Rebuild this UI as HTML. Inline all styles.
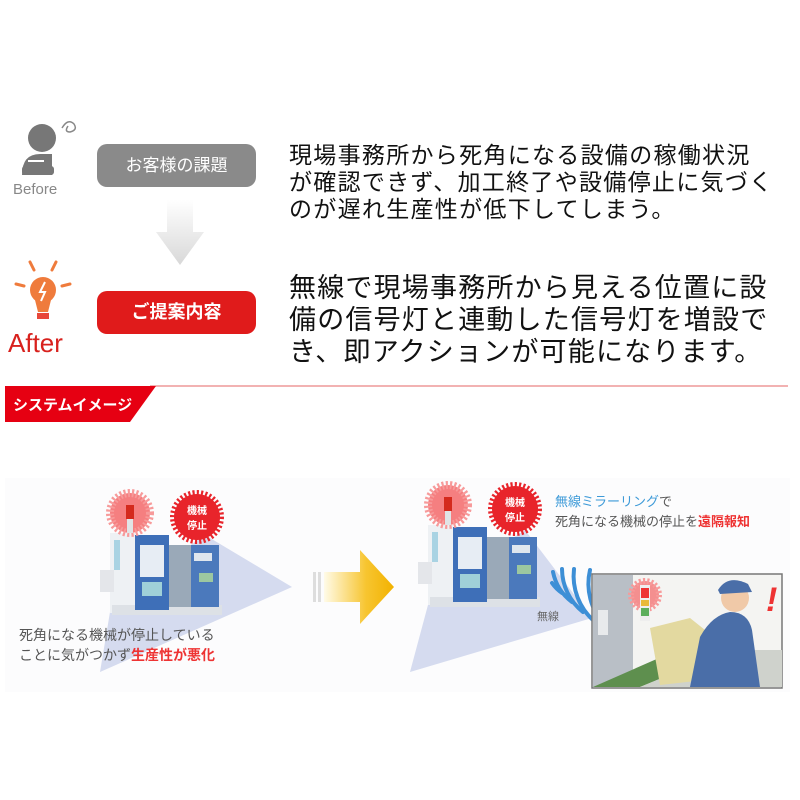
<!DOCTYPE html>
<html><head><meta charset="utf-8">
<style>
body{margin:0;width:800px;height:800px;background:#fff;position:relative;overflow:hidden;font-family:"Liberation Sans","Noto Sans CJK JP",sans-serif;}
.abs{position:absolute;}
.pill{position:absolute;border-radius:10px;color:#fff;text-align:center;font-weight:bold;}
.t1{font-size:23px;line-height:27px;color:#111;letter-spacing:1.3px;}
.t2{font-size:27px;line-height:32px;color:#111;letter-spacing:1.2px;}
</style></head><body>

<svg class="abs" style="left:0;top:0" width="800" height="800">
  <defs>
    <linearGradient id="dg" x1="0" y1="0" x2="0" y2="1"><stop offset="0" stop-color="#fff"/><stop offset="1" stop-color="#d8d8d8"/></linearGradient>
    <linearGradient id="yg" x1="0" y1="0" x2="1" y2="0"><stop offset="0" stop-color="#fffbe8"/><stop offset="0.6" stop-color="#f7c530"/><stop offset="1" stop-color="#f2b200"/></linearGradient>
    <g id="mach">
      <rect x="110" y="533" width="25" height="80" fill="#eef1f4"/>
      <rect x="114" y="540" width="6" height="30" fill="#a9d3e3"/>
      <rect x="100" y="570" width="14" height="22" fill="#e4e6ea"/>
      <rect x="112" y="605" width="110" height="10" fill="#dde1e6"/>
      <rect x="135" y="535" width="34" height="75" fill="#3e6fb8"/>
      <rect x="140" y="545" width="24" height="32" fill="#e7edf4"/>
      <rect x="142" y="582" width="20" height="14" fill="#9fd0d8"/>
      <rect x="169" y="545" width="22" height="62" fill="#9aa9b8"/>
      <rect x="191" y="545" width="28" height="62" fill="#4b79bc"/>
      <rect x="194" y="553" width="18" height="8" fill="#dfe6ee"/>
      <rect x="199" y="573" width="14" height="9" fill="#9cc7a0"/>
      <circle cx="130" cy="513" r="20" fill="#f57f80" stroke="#f79a9a" stroke-width="8" stroke-dasharray="2 2"/>
      <rect x="126" y="505" width="8" height="14" fill="#d42a1d"/>
      <rect x="127" y="519" width="6" height="14" fill="#e0e4e6"/>
      <circle cx="197" cy="517" r="23" fill="#e8242b" stroke="#e8242b" stroke-width="8" stroke-dasharray="2 2"/>
    </g>
  </defs>
  <!-- Before person -->
  <circle cx="42" cy="138" r="14" fill="#777"/>
  <path d="M22 175 Q22 154 40 154 L52 154 L52 175 Z" fill="#777"/>
  <rect x="22" y="166" width="32" height="9" rx="3" fill="#777"/>
  <rect x="28" y="160" width="16" height="2" fill="#fff"/>
  <path d="M62 128 q6 -10 12 -4 q4 6 -4 8 q-6 0 -2 -6" stroke="#888" stroke-width="1.5" fill="none"/>
  <path d="M167 200 L193 200 L193 232 L204 232 L180 265 L156 232 L167 232 Z" fill="url(#dg)"/>
  <!-- bulb -->
  <g stroke="#ef7b3c" stroke-width="3" stroke-linecap="round">
    <line x1="30" y1="262" x2="34" y2="270"/><line x1="56" y1="262" x2="52" y2="270"/>
    <line x1="16" y1="284" x2="24" y2="286"/><line x1="70" y1="284" x2="62" y2="286"/>
  </g>
  <circle cx="43" cy="290" r="13" fill="#ef7b3c"/>
  <path d="M34 296 L52 296 L48 312 L38 312 Z" fill="#ef7b3c"/>
  <rect x="37" y="313" width="12" height="6" fill="#e8473a"/>
  <path d="M45 282 L40 292 L45 292 L41 301" stroke="#fff" stroke-width="2" fill="none"/>

  <line x1="150" y1="386" x2="788" y2="386" stroke="#e99" stroke-width="1.5"/>
  <polygon points="5,386 156,386 130,422 5,422" fill="#e60012"/>

  <rect x="5" y="478" width="785" height="214" fill="#fcfcfd"/>

  <polygon points="205,535 292,587 100,672 112,600" fill="#d5dbef"/>
  <use href="#mach"/>
  <text x="197" y="514" font-size="10" font-weight="bold" fill="#fff" text-anchor="middle" font-family="Liberation Sans,Noto Sans CJK JP,sans-serif">機械</text>
  <text x="197" y="529" font-size="10" font-weight="bold" fill="#fff" text-anchor="middle" font-family="Liberation Sans,Noto Sans CJK JP,sans-serif">停止</text>

  <rect x="313" y="572" width="3" height="30" fill="#ddd"/><rect x="318" y="572" width="3" height="30" fill="#ddd"/>
  <polygon points="324,572 360,572 360,550 394,587 360,624 360,602 324,602" fill="url(#yg)"/>

  <polygon points="525,530 592,618 410,672 432,590" fill="#d5dbef"/>
  <use href="#mach" transform="translate(318,-8)"/>
  <text x="515" y="506" font-size="10" font-weight="bold" fill="#fff" text-anchor="middle" font-family="Liberation Sans,Noto Sans CJK JP,sans-serif">機械</text>
  <text x="515" y="521" font-size="10" font-weight="bold" fill="#fff" text-anchor="middle" font-family="Liberation Sans,Noto Sans CJK JP,sans-serif">停止</text>

  <g fill="none" stroke="#3d8fd6" stroke-width="4" stroke-linecap="round">
    <path d="M552 583 A40 40 0 0 0 562 593"/>
    <path d="M553 572 A50 50 0 0 0 572 602"/>
    <path d="M562 569 A55 55 0 0 0 583 612"/>
    <path d="M574 569 A60 60 0 0 0 594 621"/>
    <path d="M590 570 A60 60 0 0 0 604 624"/>
  </g>
  <rect x="592" y="574" width="190" height="114" fill="#f4f4f2" stroke="#777" stroke-width="1.5"/>
  <rect x="593" y="575" width="40" height="112" fill="#b9bfc6"/>
  <rect x="598" y="610" width="10" height="25" fill="#e8eaec"/>
  <polygon points="593,687 700,640 730,650 640,687" fill="#5e8f4e"/>
  <polygon points="640,687 730,650 782,650 782,687" fill="#cfd2cc"/>
  <circle cx="645" cy="595" r="14" fill="#f48f8f" stroke="#f79a9a" stroke-width="6" stroke-dasharray="2 2"/>
  <rect x="640" y="585" width="10" height="36" fill="#eee"/>
  <rect x="641" y="588" width="8" height="10" fill="#e33"/><rect x="641" y="600" width="8" height="6" fill="#e8b93a"/><rect x="641" y="608" width="8" height="8" fill="#5cae5c"/>
  <polygon points="650,628 690,618 705,630 705,680 660,685" fill="#e3d9a0"/>
  <path d="M700 637 Q712 615 730 612 Q748 612 752 630 L760 687 L690 687 Z" fill="#4a6ea8"/>
  <circle cx="735" cy="598" r="14" fill="#f0c9a8"/>
  <path d="M718 590 Q728 574 748 584 L752 592 L720 594 Z" fill="#4a6ea8"/>
  <text x="766" y="611" font-size="34" font-weight="bold" fill="#e33" font-style="italic" font-family="Liberation Sans,sans-serif">!</text>
</svg>

<div class="abs" style="left:13px;top:181px;font-size:15px;color:#888;">Before</div>
<div class="abs" style="left:8px;top:328px;font-size:26px;color:#d8211d;">After</div>
<div class="pill" style="left:97px;top:144px;width:159px;height:43px;line-height:43px;background:#8a8a8a;font-size:17px;font-weight:normal;">お客様の課題</div>
<div class="pill" style="left:97px;top:291px;width:159px;height:43px;line-height:43px;background:#e01b1b;font-size:18px;">ご提案内容</div>

<div class="abs t1" style="left:289px;top:142px;">現場事務所から死角になる設備の稼働状況<br>が確認できず、加工終了や設備停止に気づく<br>のが遅れ生産性が低下してしまう。</div>
<div class="abs t2" style="left:289px;top:272px;">無線で現場事務所から見える位置に設<br>備の信号灯と連動した信号灯を増設で<br>き、即アクションが可能になります。</div>

<div class="abs" style="left:13px;top:394px;font-size:15px;font-weight:bold;color:#fff;">システムイメージ</div>

<div class="abs" style="left:19px;top:625px;font-size:14px;line-height:20px;color:#555;">死角になる機械が停止している<br>ことに気がつかず<span style="color:#e33;font-weight:bold;">生産性が悪化</span></div>
<div class="abs" style="left:555px;top:492px;font-size:13px;line-height:20px;color:#555;"><span style="color:#3d9ad8;">無線ミラーリング</span>で<br>死角になる機械の停止を<span style="color:#e33;font-weight:bold;">遠隔報知</span></div>
<div class="abs" style="left:537px;top:608px;font-size:11px;color:#666;">無線</div>
</body></html>
